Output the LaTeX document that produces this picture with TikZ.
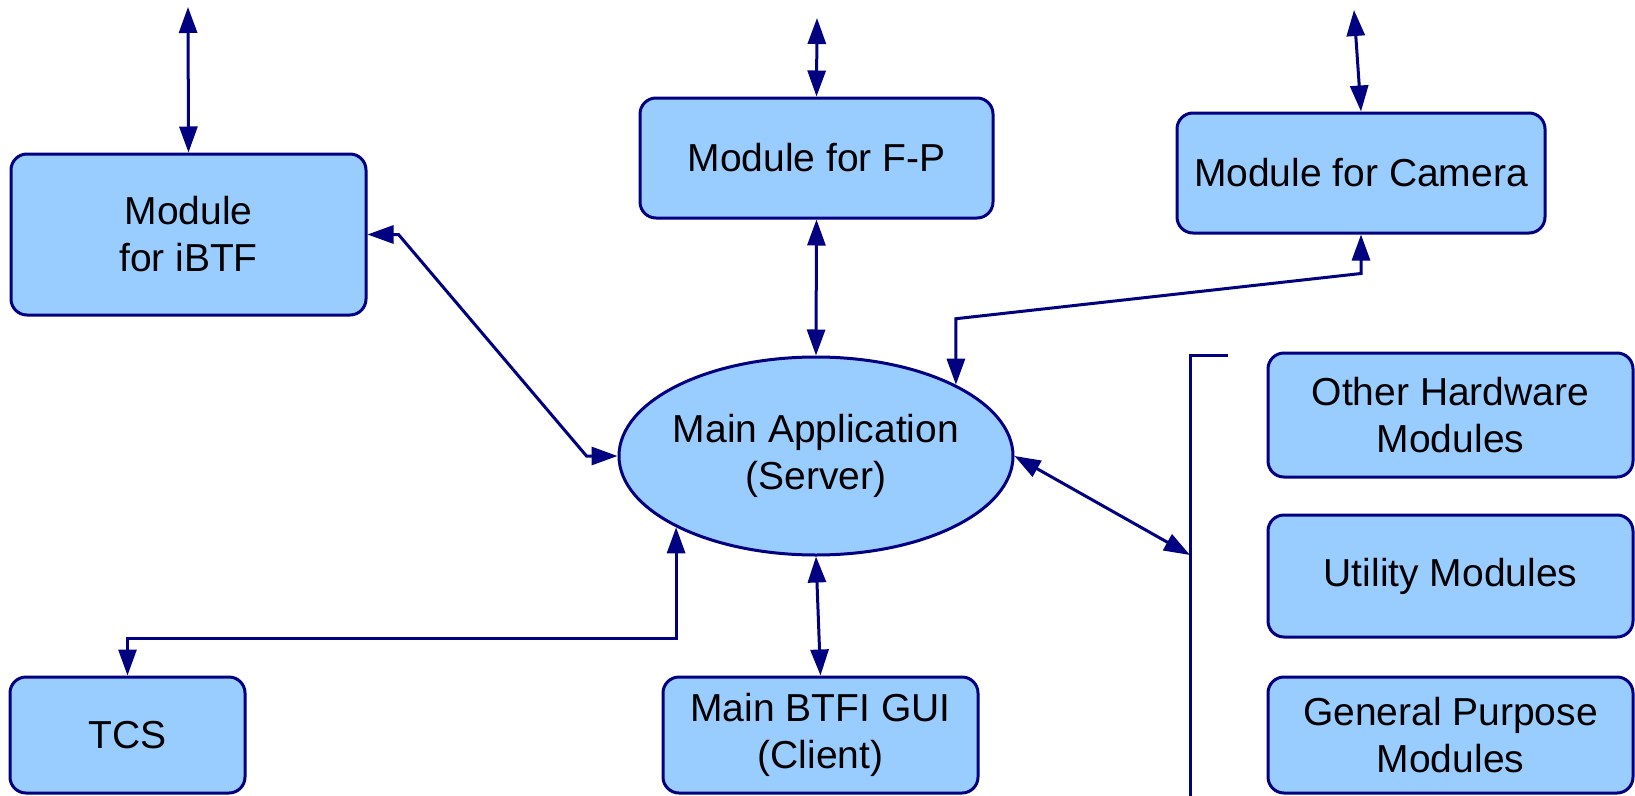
\documentclass[tikz,border=0pt]{standalone}
\usepackage{fontspec}
\setmainfont{Liberation Sans}
\usepackage{tikz}
\usetikzlibrary{positioning}
\usetikzlibrary{shapes,shapes.geometric,arrows.meta}
\definecolor{modfill}{HTML}{99CCFF}
\definecolor{modline}{HTML}{000080}
\tikzstyle{module} = [rectangle, draw=modline, fill=modfill, line width=3pt, rounded corners=16pt, text centered, align=center, inner sep=0pt]
\tikzstyle{server} = [ellipse, draw=modline, fill=modfill, line width=3pt, text centered, align=center, inner sep=0pt, inner xsep=-4pt]
\tikzstyle{link}   = [draw=modline, line width=3pt, >={Triangle[length=26pt,width=18pt]}, <->]
\tikzstyle{bar}    = [draw=modline, line width=3pt]

\begin{document}
\begin{tikzpicture}[x=1pt, y=-1pt, font=\fontsize{39}{47}\selectfont]
	\useasboundingbox (0,0) rectangle (1635,795);

	% place nodes
	\node [server, minimum width=394pt, minimum height=198pt] (M0) at (816,456) {Main Application\\(Server)};
	\node [module, minimum width=355pt, minimum height=161pt] (M1) at (188.5,234.5) {Module\\for iBTF};
	\node [module, minimum width=353pt, minimum height=120pt] (M2) at (816.5,158) {Module for F-P};
	\node [module, minimum width=368pt, minimum height=120pt] (M3) at (1361,173) {Module for Camera};
	\node [module, minimum width=365pt, minimum height=124pt] (M4) at (1450.5,415) {Other Hardware\\Modules};
	\node [module, minimum width=365pt, minimum height=122pt, below of=M4, node distance=161pt] (M5) {Utility Modules};
	\node [module, minimum width=365pt, minimum height=116pt, below of=M5, node distance=159pt] (M6) {General Purpose\\Modules};
	\node [module, minimum width=235pt, minimum height=116pt] (M7) at (127.5,735) {TCS};
	\node [module, minimum width=315pt, minimum height=116pt] (M8) at (820.5,735) {Main BTFI GUI\\(Client)};

	% free ends and the bracket
	\coordinate (T1) at (188,7);
	\coordinate (T2) at (817,18);
	\coordinate (T3) at (1354,10);
	\coordinate (B0) at (1190,355);
	\coordinate (B1) at (1190,555);
	\coordinate (B2) at (1190,800);

	% draw edges
	\path [link] (T1) -- (M1.north);
	\path [link] (T2) -- (M2.north);
	\path [link] (T3) -- (M3.north);
	\path [link] (M1.east) -- ++(31,0) -- ([xshift=-31pt]M0.west) -- (M0.west);
	\path [link] (M2.south) -- (M0.north);
	\path [link] (M3.south) -- ++(0,39) -- ([yshift=66pt]M0.27) -- (M0.27);
	\path [link] (M0.east) -- (B1);
	\path [link] (M0.207) -- ++(0,111) -| (M7.north);
	\path [link] (M0.south) -- (M8.north);
	\path [bar] ([xshift=38pt]B0) -- (B0) -- (B2);
\end{tikzpicture}
\end{document}
